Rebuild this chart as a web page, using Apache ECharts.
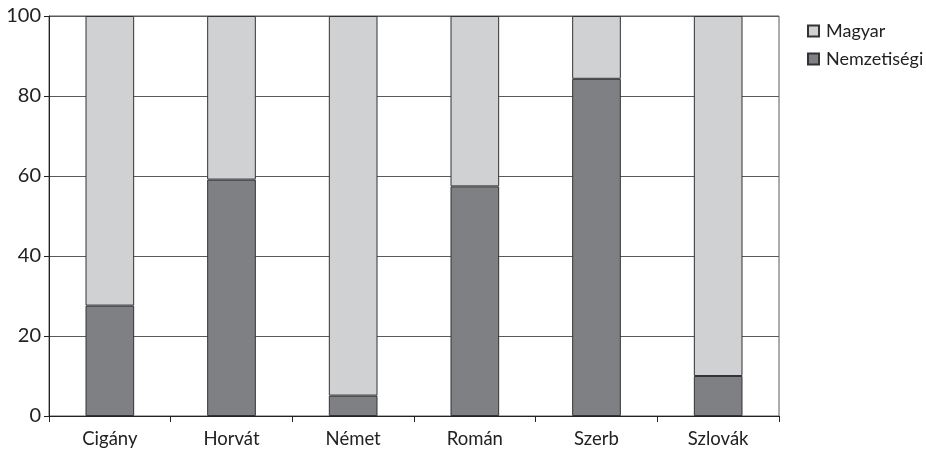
<!DOCTYPE html>
<html>
<head>
<meta charset="utf-8">
<script src="https://cdn.jsdelivr.net/npm/echarts@6/dist/echarts.min.js"></script>
<style>
  html, body { margin: 0; padding: 0; background: #fff; }
  #chart { width: 926px; height: 452px; }
</style>
</head>
<body>
<div id="chart"></div>
<script>
// Share of respondents by nationality: national vs. Hungarian (percent)
const categories = ['Cigány', 'Horvát', 'Német', 'Román', 'Szerb', 'Szlovák'];
const nemzetisegi = [27.6, 59.1, 5.1, 57.4, 84.3, 10.0];
const magyar = [72.4, 40.9, 94.9, 42.6, 15.7, 90.0];
const yTicks = [0, 20, 40, 60, 80, 100];

const FONT = 'Lato, "Open Sans", sans-serif';

const chart = echarts.init(document.getElementById('chart'), null, { renderer: 'canvas' });
chart.setOption({
  animation: false,
  textStyle: { fontFamily: FONT },
  grid: { left: 49, right: 147, top: 16, bottom: 36, show: true, borderColor: '#5a5a5a', borderWidth: 1 },
  legend: {
    orient: 'vertical',
    left: 802,
    top: 17,
    itemWidth: 11,
    itemHeight: 11,
    itemGap: 10,
    icon: 'rect',
    data: ['Magyar', 'Nemzetiségi'],
    textStyle: { fontFamily: FONT, fontSize: 18, color: '#222', padding: [0, 0, 0, 2] }
  },
  xAxis: {
    type: 'category',
    data: categories,
    axisLine: { lineStyle: { color: '#222', width: 1 } },
    axisTick: { show: true, length: 6, inside: false, lineStyle: { color: '#222' } },
    axisLabel: { fontFamily: FONT, fontSize: 18.5, color: '#222', margin: 14 }
  },
  yAxis: {
    type: 'value',
    min: yTicks[0],
    max: yTicks[yTicks.length - 1],
    interval: 20,
    axisLine: { show: true, lineStyle: { color: '#222', width: 1 } },
    axisTick: { show: true, length: 5, lineStyle: { color: '#222' } },
    axisLabel: { fontFamily: FONT, fontSize: 20, color: '#222', margin: 8 },
    splitLine: { show: true, lineStyle: { color: '#5a5a5a', width: 1 } }
  },
  series: [
    {
      name: 'Nemzetiségi',
      type: 'bar',
      stack: 'total',
      barWidth: '40%',
      data: nemzetisegi,
      itemStyle: { color: '#7f8083', borderColor: '#333', borderWidth: 1 }
    },
    {
      name: 'Magyar',
      type: 'bar',
      stack: 'total',
      barWidth: '40%',
      data: magyar,
      itemStyle: { color: '#d0d1d3', borderColor: '#333', borderWidth: 1 }
    }
  ]
});
</script>
</body>
</html>
